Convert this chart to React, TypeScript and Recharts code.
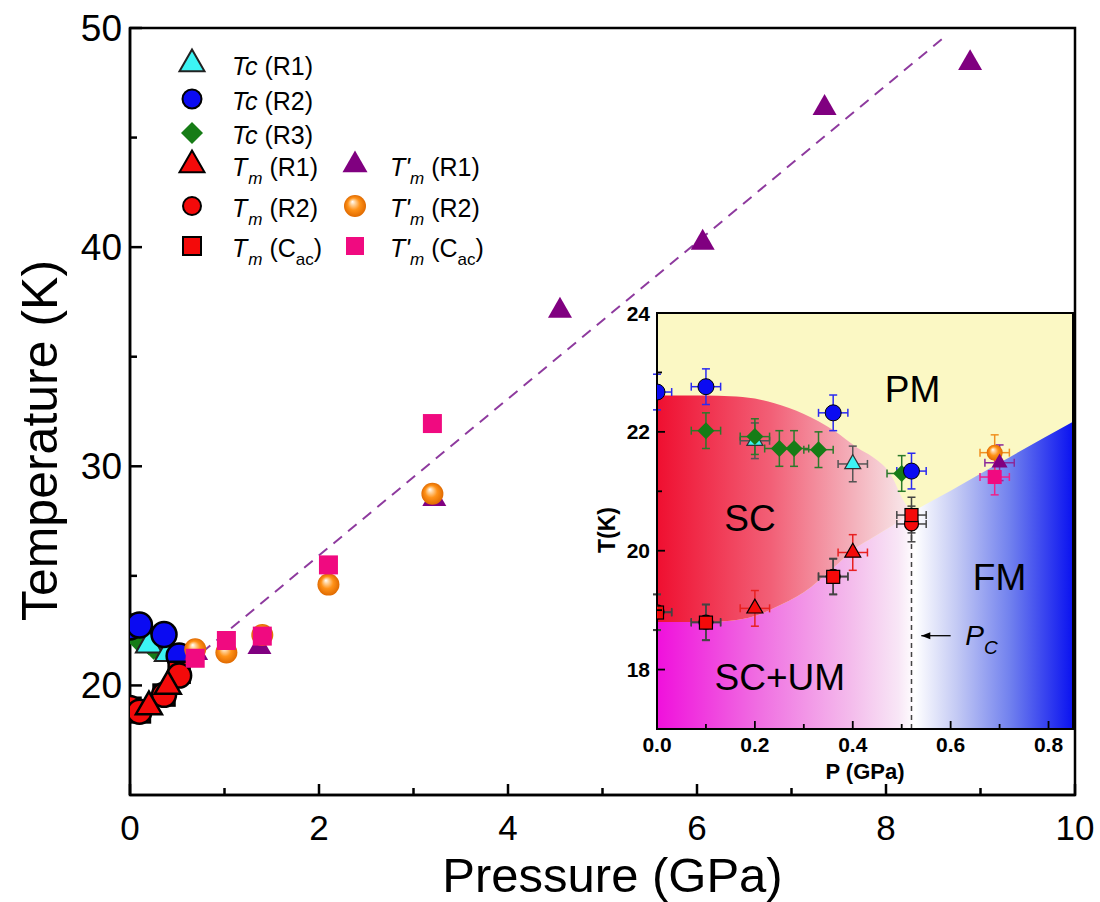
import React from "react";
import {
  Area,
  ComposedChart,
  ErrorBar,
  ReferenceArea,
  ReferenceDot,
  ReferenceLine,
  Scatter,
  ScatterChart,
  XAxis,
  YAxis,
} from "recharts";

const SANS = "'Liberation Sans', Arial, Helvetica, sans-serif";

// P in GPa, T in K, ep / et = error bars (only drawn in the inset)
// points sitting on P = 0 only show the right half of their horizontal bar
const tcR1 = [
  { p: 0.2, t: 21.85, ep: 0.03, et: 0.3 },
  { p: 0.4, t: 21.46, ep: 0.03, et: 0.3 },
];
const tcR2 = [
  { p: 0, t: 22.67, ep: [0, 0.03], et: 0.3 },
  { p: 0.1, t: 22.76, ep: 0.03, et: 0.3 },
  { p: 0.36, t: 22.32, ep: 0.03, et: 0.3 },
  { p: 0.52, t: 21.34, ep: 0.03, et: 0.3 },
];
const tcR3 = [
  { p: 0.1, t: 22.02, ep: 0.03, et: 0.3 },
  { p: 0.2, t: 21.92, ep: 0.03, et: 0.3 },
  { p: 0.25, t: 21.72, ep: 0.03, et: 0.3 },
  { p: 0.28, t: 21.72, ep: 0.03, et: 0.3 },
  { p: 0.33, t: 21.7, ep: 0.03, et: 0.3 },
  { p: 0.5, t: 21.3, ep: 0.03, et: 0.3 },
];
const tmR1 = [
  { p: 0.2, t: 19.03, ep: 0.03, et: 0.3 },
  { p: 0.4, t: 19.97, ep: 0.03, et: 0.3 },
];
const tmR2 = [
  { p: 0, t: 18.97, ep: [0, 0.03], et: 0.3 },
  { p: 0.1, t: 18.8, ep: 0.03, et: 0.3 },
  { p: 0.36, t: 19.57, ep: 0.03, et: 0.3 },
  { p: 0.52, t: 20.45, ep: 0.03, et: 0.3 },
];
const tmCac = [
  { p: 0, t: 18.96, ep: [0, 0.03], et: 0.3 },
  { p: 0.1, t: 18.79, ep: 0.03, et: 0.3 },
  { p: 0.36, t: 19.56, ep: 0.03, et: 0.3 },
  { p: 0.52, t: 20.6, ep: 0.03, et: 0.3 },
];
const tmpR1 = [
  { p: 0.7, t: 21.48, ep: 0.03, et: 0.3 },
  { p: 1.37, t: 21.75, ep: 0.03, et: 0.3 },
  { p: 3.22, t: 28.5, ep: 0.03, et: 0.3 },
  { p: 4.55, t: 37.1, ep: 0.03, et: 0.3 },
  { p: 6.06, t: 40.2, ep: 0.03, et: 0.3 },
  { p: 7.35, t: 46.35, ep: 0.03, et: 0.3 },
  { p: 8.89, t: 48.4, ep: 0.03, et: 0.3 },
];
const tmpR2 = [
  { p: 0.69, t: 21.65, ep: 0.03, et: 0.3 },
  { p: 1.02, t: 21.5, ep: 0.03, et: 0.3 },
  { p: 1.4, t: 22.3, ep: 0.03, et: 0.3 },
  { p: 2.1, t: 24.6, ep: 0.03, et: 0.3 },
  { p: 3.2, t: 28.75, ep: 0.03, et: 0.3 },
];
const tmpCac = [
  { p: 0.69, t: 21.24, ep: 0.03, et: 0.3 },
  { p: 1.02, t: 22.05, ep: 0.03, et: 0.3 },
  { p: 1.4, t: 22.25, ep: 0.03, et: 0.3 },
  { p: 2.1, t: 25.5, ep: 0.03, et: 0.3 },
  { p: 3.2, t: 31.95, ep: 0.03, et: 0.3 },
];

// dashed guide in the main panel
const fitLine = [
  { p: 0.76, t: 21.5 },
  { p: 8.65, t: 49.7 },
];

// inset phase boundaries
const boundaryP = [0, 0.05, 0.1, 0.15, 0.2, 0.24, 0.3, 0.36, 0.41, 0.44, 0.48, 0.5, 0.52, 0.6, 0.7, 0.85];
const scUpper = [22.61, 22.61, 22.61, 22.6, 22.56, 22.48, 22.3, 22.03, 21.73, 21.58, 21.25, 20.9, 20.64, null, null, null];
const lowerEdge = [18.8, 18.8, 18.8, 18.82, 18.9, 19.04, 19.3, 19.71, 20.07, 20.22, 20.42, 20.53, 20.64, 21.01, 21.48, 22.17];
const pcLine = [
  { p: 0.52, t: 17 },
  { p: 0.52, t: 20.45 },
];
const pcArrow = [
  { p: 0.6, t: 18.57 },
  { p: 0.54, t: 18.57 },
];
const regionLabels = [
  { text: "PM", p: 0.522, t: 22.72 },
  { text: "SC", p: 0.19, t: 20.55 },
  { text: "FM", p: 0.7, t: 19.56 },
  { text: "SC+UM", p: 0.251, t: 17.87 },
];

const mainXTicks = [0, 1, 2, 3, 4, 5, 6, 7, 8, 9, 10];
const mainYTicks = [20, 25, 30, 35, 40, 45, 50];
const insetXTicks = [0, 0.1, 0.2, 0.3, 0.4, 0.5, 0.6, 0.7, 0.8];
const insetYTicks = [18, 19, 20, 21, 22, 23, 24];

const regionRows = boundaryP.map((p, i) => ({
  p,
  bg: [17, 24],
  low: [17, lowerEdge[i]],
  sc: scUpper[i] == null ? null : [lowerEdge[i], scUpper[i]],
}));

const INSET_MAX = 0.85;
const inInset = (d: { p: number }) => d.p <= INSET_MAX;

// ---- marker shapes ----
function makeTriangle(fill: string, s: number, stroke = "none", sw = 0) {
  return (props: any) => {
    const { cx, cy } = props;
    const h = s * 0.87;
    return (
      <polygon
        points={`${cx},${cy - (2 * h) / 3} ${cx - s / 2},${cy + h / 3} ${cx + s / 2},${cy + h / 3}`}
        fill={fill}
        stroke={stroke}
        strokeWidth={sw}
      />
    );
  };
}
function makeCircle(fill: string, r: number, stroke = "none", sw = 0) {
  return (props: any) => <circle cx={props.cx} cy={props.cy} r={r} fill={fill} stroke={stroke} strokeWidth={sw} />;
}
function makeSquare(fill: string, s: number, stroke = "none", sw = 0) {
  return (props: any) => (
    <rect x={props.cx - s / 2} y={props.cy - s / 2} width={s} height={s} fill={fill} stroke={stroke} strokeWidth={sw} />
  );
}
function makeDiamond(fill: string, h: number, stroke = "none", sw = 0) {
  return (props: any) => {
    const { cx, cy } = props;
    return (
      <polygon
        points={`${cx},${cy - h} ${cx + h},${cy} ${cx},${cy + h} ${cx - h},${cy}`}
        fill={fill}
        stroke={stroke}
        strokeWidth={sw}
      />
    );
  };
}
function makeBall(r: number) {
  return (props: any) => <circle cx={props.cx} cy={props.cy} r={r} fill="url(#ballGrad)" />;
}

const CYAN = "#3cf4f4";
const BLUE = "#0b0bf2";
const GREEN = "#167c16";
const RED = "#f40a0a";
const PURPLE = "#800080";
const PINK = "#f00a80";

const mainShape = {
  tcR1: makeTriangle(CYAN, 26, "#222", 2),
  tcR2: makeCircle(BLUE, 12.5, "#000", 2.5),
  tcR3: makeDiamond(GREEN, 12),
  tmR1: makeTriangle(RED, 26, "#000", 2.5),
  tmR2: makeCircle(RED, 12, "#000", 2.5),
  tmCac: makeSquare(RED, 21, "#000", 2.5),
  tmpR1: makeTriangle(PURPLE, 24),
  tmpR2: makeBall(11),
  tmpCac: makeSquare(PINK, 19),
};
const insetShape = {
  tcR1: makeTriangle(CYAN, 16, "#333", 1.2),
  tcR2: makeCircle(BLUE, 8, "#000", 1),
  tcR3: makeDiamond(GREEN, 8.5),
  tmR1: makeTriangle(RED, 16, "#000", 1.2),
  tmR2: makeCircle(RED, 7, "#000", 1.2),
  tmCac: makeSquare(RED, 13, "#000", 1.2),
  tmpR1: makeTriangle(PURPLE, 16),
  tmpR2: makeBall(8),
  tmpCac: makeSquare(PINK, 14),
};
const legendShape = {
  tcR1: makeTriangle(CYAN, 25, "#222", 2),
  tcR2: makeCircle(BLUE, 9.5, "#000", 2),
  tcR3: makeDiamond(GREEN, 11),
  tmR1: makeTriangle(RED, 25, "#000", 2),
  tmR2: makeCircle(RED, 9, "#000", 2),
  tmCac: makeSquare(RED, 18, "#000", 2),
  tmpR1: makeTriangle(PURPLE, 25),
  tmpR2: makeBall(11),
  tmpCac: makeSquare(PINK, 18),
};

// ---- ticks (drawn inward) ----
function MainXTick({ x, y, payload }: any) {
  const v = payload.value;
  const major = v % 2 === 0;
  return (
    <g>
      <line x1={x} y1={y} x2={x} y2={y - (major ? 11 : 7)} stroke="#000" strokeWidth={2.5} />
      {major && (
        <text x={x} y={y + 45} textAnchor="middle" fontSize={35} fontFamily={SANS} fill="#000">
          {v}
        </text>
      )}
    </g>
  );
}
function MainYTick({ x, y, payload }: any) {
  const v = payload.value;
  const major = v % 10 === 0;
  return (
    <g>
      <line x1={x} y1={y} x2={x + (major ? 12 : 7)} y2={y} stroke="#000" strokeWidth={2.5} />
      {major && (
        <text x={x - 8} y={y + 13} textAnchor="end" fontSize={37} fontFamily={SANS} fill="#000">
          {v}
        </text>
      )}
    </g>
  );
}
function InsetXTick({ x, y, payload }: any) {
  const v = payload.value;
  const major = Math.round(v * 10) % 2 === 0;
  return (
    <g>
      <line x1={x} y1={y} x2={x} y2={y - (major ? 8 : 5)} stroke="#000" strokeWidth={1.8} />
      {major && (
        <text x={x} y={y + 23} textAnchor="middle" fontSize={21} fontWeight="bold" fontFamily={SANS} fill="#000">
          {v.toFixed(1)}
        </text>
      )}
    </g>
  );
}
function InsetYTick({ x, y, payload }: any) {
  const v = payload.value;
  const major = v % 2 === 0;
  return (
    <g>
      <line x1={x} y1={y} x2={x + (major ? 8 : 5)} y2={y} stroke="#000" strokeWidth={1.8} />
      {major && (
        <text x={x - 7} y={y + 7.5} textAnchor="end" fontSize={21} fontWeight="bold" fontFamily={SANS} fill="#000">
          {v}
        </text>
      )}
    </g>
  );
}

const mainXLabel = (props: any) => {
  const vb = props.viewBox;
  return (
    <text x={vb.x + vb.width / 2 + 10} y={vb.y + 97} textAnchor="middle" fontSize={49} fontFamily={SANS} fill="#000">
      Pressure (GPa)
    </text>
  );
};
const mainYLabel = (props: any) => {
  const vb = props.viewBox;
  const cx = 57;
  const cy = vb.y + vb.height / 2 + 29;
  return (
    <text x={cx} y={cy} transform={`rotate(-90 ${cx} ${cy})`} textAnchor="middle" fontSize={50} fontFamily={SANS} fill="#000">
      Temperature (K)
    </text>
  );
};
const insetXLabel = (props: any) => {
  const vb = props.viewBox;
  return (
    <text x={vb.x + vb.width / 2} y={vb.y + 50} textAnchor="middle" fontSize={22} fontWeight="bold" fontFamily={SANS} fill="#000">
      P (GPa)
    </text>
  );
};
const insetYLabel = (props: any) => {
  const vb = props.viewBox;
  const cx = vb.x + vb.width - 42;
  const cy = vb.y + vb.height / 2 + 9;
  return (
    <text x={cx} y={cy} transform={`rotate(-90 ${cx} ${cy})`} textAnchor="middle" fontSize={23} fontWeight="bold" fontFamily={SANS} fill="#000">
      T(K)
    </text>
  );
};

const regionText = (text: string) => (props: any) => (
  <text x={props.cx} y={props.cy + 13} textAnchor="middle" fontSize={37} fontFamily={SANS} fill="#000">
    {text}
  </text>
);
const pcText = (props: any) => (
  <text x={props.cx} y={props.cy + 9} fontSize={28} fontStyle="italic" fontFamily={SANS} fill="#000">
    P<tspan dy={9} fontSize={19}>C</tspan>
  </text>
);
const arrowHead = (props: any) => (
  <polygon points={`${props.cx},${props.cy} ${props.cx + 9},${props.cy - 3.5} ${props.cx + 9},${props.cy + 3.5}`} fill="#000" />
);

function MainChart() {
  return (
    <ScatterChart width={1100} height={902} margin={{ top: 28, right: 25, bottom: 47, left: 50 }}>
      <XAxis
        type="number"
        dataKey="p"
        domain={[0, 10]}
        ticks={mainXTicks}
        interval={0}
        allowDataOverflow
        height={60}
        tickSize={0}
        tickMargin={0}
        tickLine={false}
        axisLine={{ stroke: "#000", strokeWidth: 2.5 }}
        tick={<MainXTick />}
        label={mainXLabel}
      />
      <YAxis
        type="number"
        dataKey="t"
        domain={[15, 50]}
        ticks={mainYTicks}
        interval={0}
        allowDataOverflow
        width={80}
        tickSize={0}
        tickMargin={0}
        tickLine={false}
        axisLine={{ stroke: "#000", strokeWidth: 2.5 }}
        tick={<MainYTick />}
        label={mainYLabel}
      />
      <ReferenceArea x1={0} x2={10} y1={15} y2={50} fill="none" stroke="#000" strokeWidth={2.5} />
      <ReferenceLine
        segment={fitLine.map((d) => ({ x: d.p, y: d.t }))}
        stroke="#8e3a9e"
        strokeWidth={2}
        strokeDasharray="11 8"
      />
      <Scatter data={tcR3} dataKey="t" shape={mainShape.tcR3} isAnimationActive={false} />
      <Scatter data={tcR1} dataKey="t" shape={mainShape.tcR1} isAnimationActive={false} />
      <Scatter data={tcR2} dataKey="t" shape={mainShape.tcR2} isAnimationActive={false} />
      <Scatter data={tmCac} dataKey="t" shape={mainShape.tmCac} isAnimationActive={false} />
      <Scatter data={tmR2} dataKey="t" shape={mainShape.tmR2} isAnimationActive={false} />
      <Scatter data={tmR1} dataKey="t" shape={mainShape.tmR1} isAnimationActive={false} />
      <Scatter data={tmpR1} dataKey="t" shape={mainShape.tmpR1} isAnimationActive={false} />
      <Scatter data={tmpR2} dataKey="t" shape={mainShape.tmpR2} isAnimationActive={false} />
      <Scatter data={tmpCac} dataKey="t" shape={mainShape.tmpCac} isAnimationActive={false} />
    </ScatterChart>
  );
}

function errBars(color: string) {
  return [
    <ErrorBar key="x" dataKey="ep" direction="x" width={4} stroke={color} strokeWidth={1.5} />,
    <ErrorBar key="y" dataKey="et" direction="y" width={4} stroke={color} strokeWidth={1.5} />,
  ];
}

function InsetChart() {
  return (
    <ComposedChart width={540} height={500} data={regionRows} margin={{ top: 23, right: 27, bottom: 11, left: 37 }}>
      <XAxis
        type="number"
        dataKey="p"
        domain={[0, INSET_MAX]}
        ticks={insetXTicks}
        interval={0}
        allowDataOverflow
        height={50}
        tickSize={0}
        tickMargin={0}
        tickLine={false}
        axisLine={{ stroke: "#000", strokeWidth: 2 }}
        tick={<InsetXTick />}
        label={insetXLabel}
      />
      <YAxis
        type="number"
        dataKey="t"
        domain={[17, 24]}
        ticks={insetYTicks}
        interval={0}
        allowDataOverflow
        width={60}
        tickSize={0}
        tickMargin={0}
        tickLine={false}
        axisLine={{ stroke: "#000", strokeWidth: 2 }}
        tick={<InsetYTick />}
        label={insetYLabel}
      />
      <Area dataKey="bg" type="linear" fill="#fbf8c4" fillOpacity={1} stroke="none" dot={false} activeDot={false} isAnimationActive={false} />
      <Area dataKey="low" type="monotone" fill="url(#lowGrad)" fillOpacity={1} stroke="none" dot={false} activeDot={false} isAnimationActive={false} />
      <Area dataKey="sc" type="monotone" fill="url(#scGrad)" fillOpacity={1} stroke="none" dot={false} activeDot={false} isAnimationActive={false} />
      <ReferenceArea x1={0} x2={INSET_MAX} y1={17} y2={24} fill="none" stroke="#000" strokeWidth={2} />
      <ReferenceLine segment={pcLine.map((d) => ({ x: d.p, y: d.t }))} stroke="#444" strokeWidth={1.5} strokeDasharray="5 4" />
      <ReferenceLine segment={pcArrow.map((d) => ({ x: d.p, y: d.t }))} stroke="#000" strokeWidth={1.3} />
      <ReferenceDot x={pcArrow[1].p} y={pcArrow[1].t} r={0} shape={arrowHead} />
      <ReferenceDot x={0.63} y={18.57} r={0} shape={pcText} />
      {regionLabels.map((d) => (
        <ReferenceDot key={d.text} x={d.p} y={d.t} r={0} shape={regionText(d.text)} />
      ))}
      <Scatter data={tcR1.filter(inInset)} dataKey="t" shape={insetShape.tcR1} isAnimationActive={false}>
        {errBars("#555")}
      </Scatter>
      <Scatter data={tcR3.filter(inInset)} dataKey="t" shape={insetShape.tcR3} isAnimationActive={false}>
        {errBars("#2a7a2a")}
      </Scatter>
      <Scatter data={tcR2.filter(inInset)} dataKey="t" shape={insetShape.tcR2} isAnimationActive={false}>
        {errBars("#2a2af0")}
      </Scatter>
      <Scatter data={tmR2.filter(inInset)} dataKey="t" shape={insetShape.tmR2} isAnimationActive={false}>
        {errBars("#444")}
      </Scatter>
      <Scatter data={tmCac.filter(inInset)} dataKey="t" shape={insetShape.tmCac} isAnimationActive={false}>
        {errBars("#444")}
      </Scatter>
      <Scatter data={tmR1.filter(inInset)} dataKey="t" shape={insetShape.tmR1} isAnimationActive={false}>
        {errBars("#e82020")}
      </Scatter>
      <Scatter data={tmpR2.filter(inInset)} dataKey="t" shape={insetShape.tmpR2} isAnimationActive={false}>
        {errBars("#f09020")}
      </Scatter>
      <Scatter data={tmpR1.filter(inInset)} dataKey="t" shape={insetShape.tmpR1} isAnimationActive={false}>
        {errBars("#8a2a9a")}
      </Scatter>
      <Scatter data={tmpCac.filter(inInset)} dataKey="t" shape={insetShape.tmpCac} isAnimationActive={false}>
        {errBars("#f0208a")}
      </Scatter>
    </ComposedChart>
  );
}

// ---- legend ----
const Tc = () => <i>Tc</i>;
// T with subscript m; the prime sits just after the T, the m a little lower and to its right
const Tm = ({ prime }: { prime?: boolean }) => (
  <span>
    <i>T</i>
    {prime && <i>'</i>}
    <i style={{ fontSize: "0.68em", position: "relative", top: "0.45em", marginLeft: prime ? 0 : 1 }}>m</i>
  </span>
);
const Cac = () => (
  <span>
    (C<span style={{ fontSize: "0.68em", verticalAlign: "-0.45em" }}>ac</span>)
  </span>
);

const legendItems = [
  { shape: legendShape.tcR1, label: <><Tc /> (R1)</>, mx: 192, tx: 232, y: 64 },
  { shape: legendShape.tcR2, label: <><Tc /> (R2)</>, mx: 192, tx: 232, y: 99 },
  { shape: legendShape.tcR3, label: <><Tc /> (R3)</>, mx: 192, tx: 232, y: 133 },
  { shape: legendShape.tmR1, label: <><Tm /> (R1)</>, mx: 192, tx: 232, y: 165 },
  { shape: legendShape.tmR2, label: <><Tm /> (R2)</>, mx: 192, tx: 232, y: 206 },
  { shape: legendShape.tmCac, label: <><Tm /> <Cac /></>, mx: 192, tx: 232, y: 246 },
  { shape: legendShape.tmpR1, label: <><Tm prime /> (R1)</>, mx: 355, tx: 390, y: 165 },
  { shape: legendShape.tmpR2, label: <><Tm prime /> (R2)</>, mx: 355, tx: 390, y: 206 },
  { shape: legendShape.tmpCac, label: <><Tm prime /> <Cac /></>, mx: 355, tx: 390, y: 246 },
];

function LegendBox() {
  return (
    <div style={{ position: "absolute", left: 0, top: 0, fontFamily: SANS, fontSize: 25, color: "#000" }}>
      {legendItems.map((it, i) => (
        <React.Fragment key={i}>
          <svg width={34} height={34} style={{ position: "absolute", left: it.mx - 17, top: it.y - 17, overflow: "visible" }}>
            {it.shape({ cx: 17, cy: 17 })}
          </svg>
          <div style={{ position: "absolute", left: it.tx, top: it.y - 15, lineHeight: "34px", whiteSpace: "nowrap" }}>
            {it.label}
          </div>
        </React.Fragment>
      ))}
    </div>
  );
}

export default function App() {
  return (
    <div style={{ position: "absolute", left: 0, top: 0, width: 1100, height: 902, background: "#fff" }}>
      <svg width={0} height={0} style={{ position: "absolute" }}>
        <defs>
          <radialGradient id="ballGrad" cx="50%" cy="50%" r="50%" fx="38%" fy="30%">
            <stop offset="0" stopColor="#ffffff" />
            <stop offset="0.22" stopColor="#ffd29a" />
            <stop offset="0.55" stopColor="#ff9218" />
            <stop offset="1" stopColor="#e06a00" />
          </radialGradient>
          <linearGradient id="scGrad" x1="0" y1="0" x2="1" y2="0">
            <stop offset="0" stopColor="#ef0f30" />
            <stop offset="0.45" stopColor="#f26077" />
            <stop offset="0.78" stopColor="#f4b3bd" />
            <stop offset="1" stopColor="#f8ecee" />
          </linearGradient>
          <linearGradient id="lowGrad" x1="0" y1="0" x2="1" y2="0">
            <stop offset="0" stopColor="#f010dc" />
            <stop offset="0.25" stopColor="#f070e2" />
            <stop offset="0.47" stopColor="#f4bdec" />
            <stop offset="0.58" stopColor="#f8e6f6" />
            <stop offset="0.62" stopColor="#ffffff" />
            <stop offset="0.72" stopColor="#c4caf4" />
            <stop offset="0.85" stopColor="#7080ee" />
            <stop offset="1" stopColor="#0a12f0" />
          </linearGradient>
        </defs>
      </svg>
      <div style={{ position: "absolute", left: 0, top: 0 }}>
        <MainChart />
      </div>
      <LegendBox />
      <div style={{ position: "absolute", left: 560, top: 290 }}>
        <InsetChart />
      </div>
    </div>
  );
}
